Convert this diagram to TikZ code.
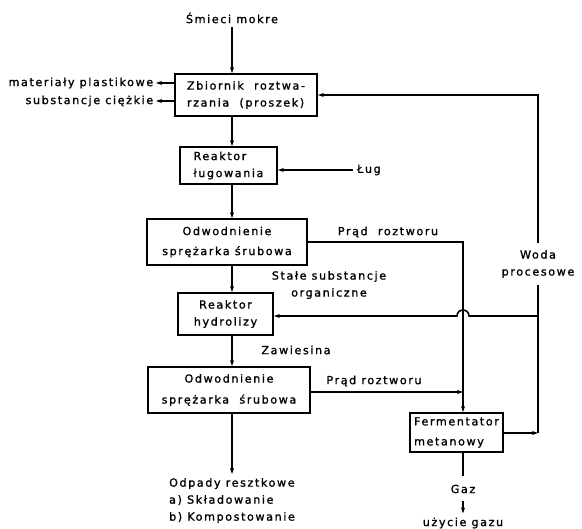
\documentclass[tikz,border=0pt]{standalone}
\usepackage{fontspec}
\setmainfont{DejaVu Sans}[LetterSpace=14,FakeBold=1.2]
\usetikzlibrary{arrows.meta}

\begin{document}
\begin{tikzpicture}[x=1pt,y=-1pt,line width=1.6pt,
  every node/.style={font=\fontsize{11.2}{17}\selectfont},
  box/.style={draw,line width=1.6pt,inner sep=2pt},
  arr/.style={-{Stealth[length=6pt,width=4pt]}}]
%\draw[step=20,gray,very thin] (0,0) grid (582,529);
\useasboundingbox (0,0) rectangle (582,529);
\coordinate (main) at (232,0);
\coordinate (ret) at (463,0);
\coordinate (woda line) at (538,0);

% main chain of boxes
\node[] (smieci) at (232,18) {Śmieci mokre};
\node[box,minimum width=142,minimum height=42,align=left] (zbiornik) at (246,95) {Zbiornik\ \ roztwa-\\rzania\ \ (proszek)};
\node[box,minimum width=97,minimum height=37,align=left] (lugowanie) at (228.5,165.5) {Reaktor\\ługowania};
\node[box,minimum width=160,minimum height=46,align=center] (odwod1) at (227,242) {Odwodnienie\\[3pt]sprężarka śrubowa};
\node[box,minimum width=95,minimum height=42,align=center] (hydroliza) at (225.5,314) {Reaktor\\hydrolizy};
\node[box,minimum width=162,minimum height=46,align=center] (odwod2) at (229,390) {Odwodnienie\\[4pt]sprężarka\ \ śrubowa};
\node[box,minimum width=93,minimum height=39,align=left] (ferm) at (456.5,432.5) {Fermentator\\[3pt]metanowy};

% labels
\node[anchor=east,inner sep=2pt] (plast) at (156,83) {materiały plastikowe};
\node[anchor=east,inner sep=2pt] (ciezkie) at (156,101) {substancje ciężkie};
\node[anchor=west] (lug) at (353,170) {Ług};
\node[] (prad1) at (388,232) {Prąd\ \ roztworu};
\node[align=center] (stale) at (329,285) {Stałe substancje\\organiczne};
\node[] (zawiesina) at (296,350) {Zawiesina};
\node[] (prad2) at (374,381) {Prąd roztworu};
\node[align=center,inner sep=6pt] (woda) at (538,264) {Woda\\procesowe};
\node[align=left,anchor=north west] (odpady) at (165,474) {Odpady resztkowe\\a) Składowanie\\b) Kompostowanie};
\node[] (gaz) at (463,489) {Gaz};
\node[] (uzycie) at (463,523) {użycie gazu};

% flows
\draw[arr] (smieci.south) -- (zbiornik.north -| main);
\draw[arr] (zbiornik.west |- plast) -- (plast.east);
\draw[arr] (zbiornik.west |- ciezkie) -- (ciezkie.east);
\draw[arr] (zbiornik.south -| main) -- (lugowanie.north -| main);
\draw[arr] (lug.west) -- (lugowanie.east |- lug);
\draw[arr] (lugowanie.south -| main) -- (odwod1.north -| main);
\draw[arr] (odwod1.south -| main) -- (hydroliza.north -| main);
\draw[arr] (hydroliza.south -| main) -- (odwod2.north -| main);
\draw[arr] (odwod2.south -| main) -- (odpady.north -| main);
\draw (odwod1.east |- 0,242) -| (ret |- 0,392);
\draw[arr] (odwod2.east |- 0,392) -- (ret |- 0,392);
\draw[arr] (ret |- 0,392) -- (ferm.north -| ret);
\draw (ferm.south -| ret) -- (ret |- 0,476);
\draw[arr,shorten <=4pt] (gaz.south) -- (uzycie.north);

% process water loop
\draw[arr] (ferm.east |- 0,433) -- (woda line |- 0,433);
\draw (woda line |- 0,433) -- (woda.south);
\draw[arr] (woda.north) -- (woda line |- 0,95) -- (zbiornik.east |- 0,95);
\draw[arr] (woda line |- 0,316) -- (469,316) arc (0:-180:6) -- (hydroliza.east |- 0,316);

\end{tikzpicture}
\end{document}
